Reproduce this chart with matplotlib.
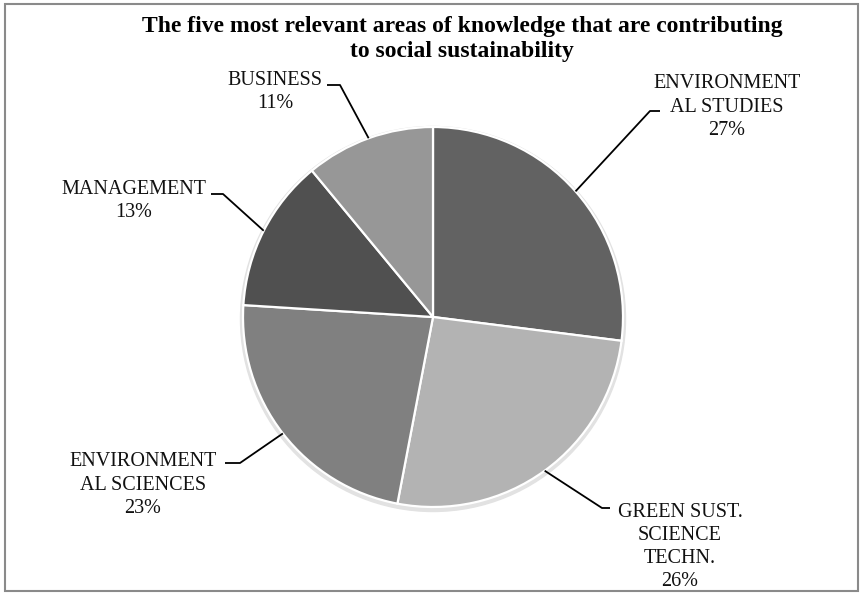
import numpy as np
import matplotlib
matplotlib.use('Agg')
import matplotlib.pyplot as plt
from matplotlib.patches import Rectangle, Circle

plt.rcParams['font.family'] = ['Liberation Serif', 'DejaVu Serif']

W, H = 865, 596

# ── Data ──────────────────────────────────────────────────────────────────────
areas   = ['ENVIRONMENT\nAL STUDIES', 'GREEN SUST.\nSCIENCE\nTECHN.',
           'ENVIRONMENT\nAL SCIENCES', 'MANAGEMENT', 'BUSINESS']
shares  = [27, 26, 23, 13, 11]
colors  = ['#626262', '#b3b3b3', '#808080', '#505050', '#979797']
title   = ('The five most relevant areas of knowledge that are contributing\n'
           'to social sustainability')

# label layout (pixel coords, y down): text centre, elbow, line end
label_pos = [(727, 107), (680, 547), (143, 485), (134, 201), (275, 92)]
elbows    = [(650, 111), (602, 508), (240, 463), (223, 194), (340, 85)]
ends      = [(660, 111), (610, 508), (225, 463), (211, 194), (327, 85)]

CX, CY, R = 433, 317, 190

def up(x, y):
    return x, H - y

fig = plt.figure(figsize=(W/100, H/100), dpi=100)
ax = fig.add_axes([0, 0, 1, 1])

# faint shadow ring round the pie
ax.add_patch(Circle(up(CX, CY + 2), R + 2.5, color='#e2e2e2', zorder=0))

wedges, _ = ax.pie(shares, colors=colors, startangle=90, counterclock=False,
                   center=up(CX, CY), radius=R,
                   wedgeprops=dict(edgecolor='white', linewidth=1.6))

for w, name, sh, tp, el, en in zip(wedges, areas, shares, label_pos, elbows, ends):
    mid = np.deg2rad((w.theta1 + w.theta2) / 2)
    ex, ey = CX + R*np.cos(mid), H - CY + R*np.sin(mid)
    ax.plot([ex, el[0], en[0]], [ey, H - el[1], H - en[1]],
            color='black', linewidth=1.3, solid_capstyle='butt', zorder=5)
    ax.text(*up(*tp), f'{name}\n{sh}%', ha='center', va='center',
            fontsize=14.5, linespacing=1.3, color='#111111')

ax.text(*up(462, 39), title, ha='center', va='center', fontsize=17,
        fontweight='bold', linespacing=1.2)

ax.set_xlim(0, W)
ax.set_ylim(0, H)
ax.set_aspect('equal')
ax.axis('off')

fig.patches.append(Rectangle((5/W, 5/H), 853/W, 587/H, transform=fig.transFigure,
                             fill=False, edgecolor='#8a8a8a', linewidth=1.5))

plt.savefig('out.png', dpi=100)
